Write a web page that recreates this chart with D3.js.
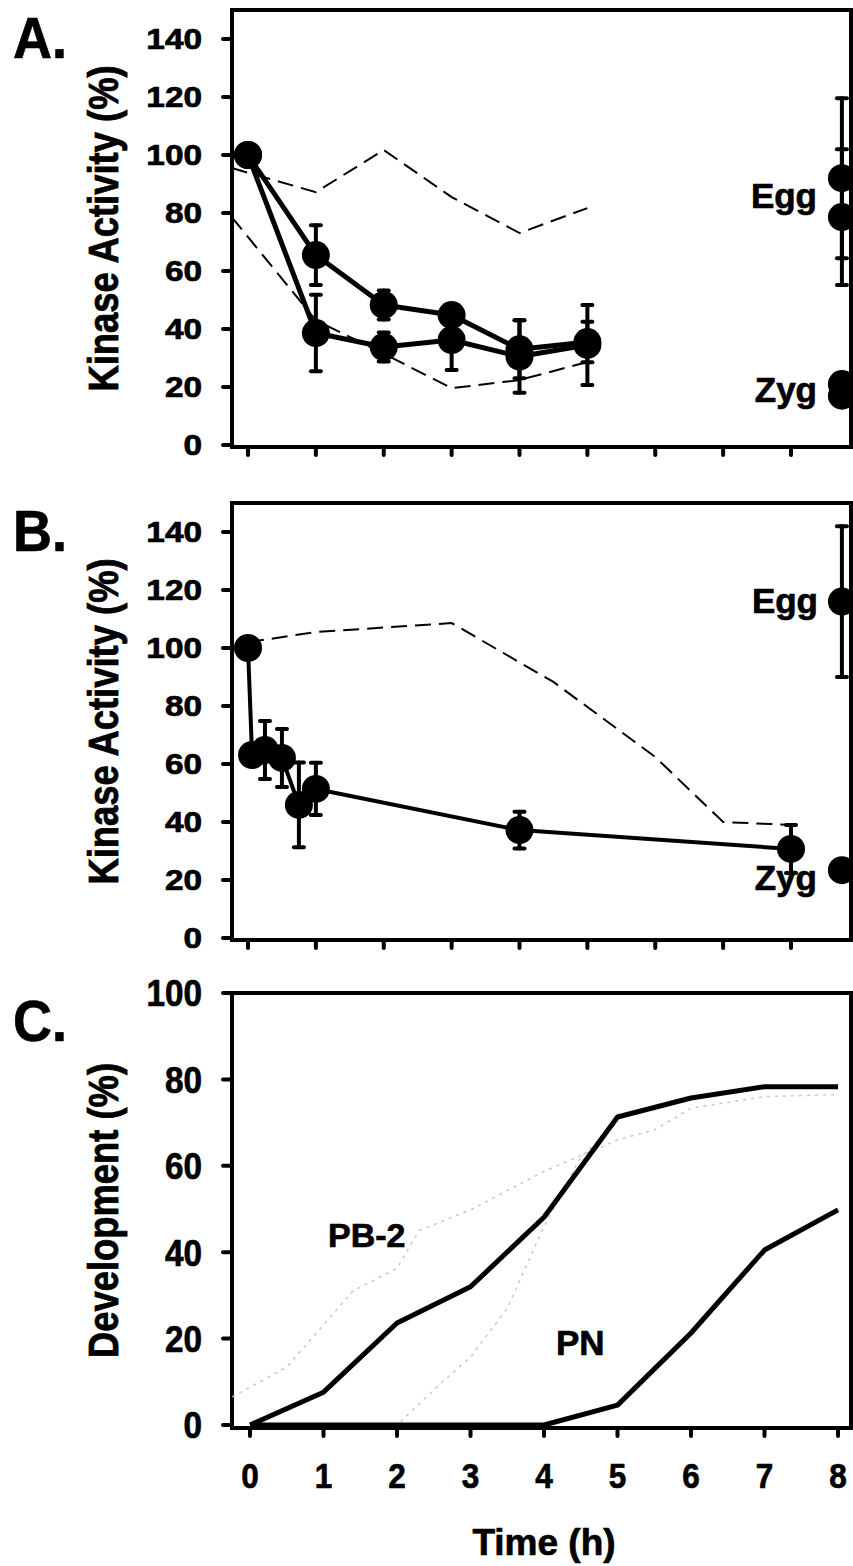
<!DOCTYPE html>
<html>
<head>
<meta charset="utf-8">
<script src="https://cdn.jsdelivr.net/npm/d3@7"></script>
<style>
  html, body { margin: 0; padding: 0; background: #fff; }
  svg { display: block; }
  text { font-family: Arial, "Liberation Sans", sans-serif; font-weight: bold; fill: #000; stroke: #000; stroke-width: 0.7px; }
</style>
</head>
<body>
<div id="graph"></div>
<script>
// ---- data ----
// panel A : kinase activity after activation, two experiments
const aTime = [0, 1, 2, 3, 4, 5];
const aKinase1 = [100, 65.5, 48.3, 44.8, 33, 35.5];
const aErr1 = [0, 10.3, 5, 3, 10, 7];
const aKinase2 = [100, 38.6, 33.8, 36.2, 30.5, 34.5];
const aErr2 = [0, 13.2, 5, 10.3, 12.5, 13.8];
const aDashTime = [-0.24, 1, 2, 3, 4, 5];
const aDashHigh = [95.5, 87.2, 101.7, 85.5, 73.1, 81.7];
const aDashLow = [78.6, 43, 31.5, 19.6, 22.4, 28.6];
const aEgg = [92, 78.6];
const aEggErr = [27.6, 23.4];
const aZyg = [21, 17];

// panel B
const bTime = [0, 0.06, 0.25, 0.5, 0.75, 1, 4, 8];
const bKinase = [100, 63.1, 64.8, 62.1, 45.9, 51.4, 37.2, 30.7];
const bErr = [0, 0, 10, 10, 14.6, 9, 6.3, 8.3];
const bDashTime = [0, 1, 3, 4.5, 6, 7, 8];
const bDash = [102, 105.5, 108.6, 88.3, 62.4, 40, 39];
const bEgg = [116];
const bEggErr = [26];
const bZyg = [23.4];

// x position of the Egg / Zyg reference points (A and B)
const refTime = 8.75;

// panel C : development
const cTime = [0, 1, 2, 3, 4, 5, 6, 7, 8];
const cPB2 = [0, 7.6, 23.6, 32, 48.1, 71.3, 75.7, 78.3, 78.3];
const cPN = [0, 0, 0, 0, 0, 4.6, 21.3, 40.5, 49.8];
const cPB2GreyTime = [-0.24, 0.5, 1.4, 2, 2.3, 3, 4, 5, 5.5, 6, 7, 8];
const cPB2Grey = [6.5, 13.4, 31, 36.3, 45, 49.8, 58.7, 66, 68.3, 73.3, 76, 76.5];
const cPNGreyTime = [0, 1, 2, 2.6, 3, 3.5, 4, 4.5, 5];
const cPNGrey = [0, 0, 0, 9.7, 15.7, 27, 46, 62, 70];

// ticks
const kinaseTicks = [0, 20, 40, 60, 80, 100, 120, 140];
const devTicks = [0, 20, 40, 60, 80, 100];
const hourTicks = [0, 1, 2, 3, 4, 5, 6, 7, 8];

const zip = (xs, ys, es) => xs.map((x, i) => ({x: x, y: ys[i], e: es ? es[i] : 0}));

const svg = d3.select("#graph").append("svg")
  .attr("width", 853).attr("height", 1566);

const frameL = 232, frameR = 851;

// stretched text helper (the scan is a bit distorted)
function label(g, x, y, str, size, sx, anchor, rot) {
  return g.append("text")
    .attr("transform", `translate(${x},${y}) scale(${sx},1)` + (rot ? ` rotate(${rot})` : ""))
    .attr("text-anchor", anchor || "start")
    .style("font-size", size + "px")
    .text(str);
}

function panel(opt) {
  const g = svg.append("g");
  const x = d3.scaleLinear().domain(opt.xDomain).range(opt.xRange);
  const y = d3.scaleLinear().domain(opt.yDomain).range([opt.bottom, opt.top]);

  // frame
  g.append("path")
    .attr("d", `M${frameL},${opt.top}H${frameR}V${opt.axisY}H${frameL}Z`)
    .attr("fill", "none").attr("stroke", "#000").attr("stroke-width", 4);

  // y ticks + labels
  g.selectAll(".yt").data(opt.yTicks).join("line")
    .attr("x1", frameL - 9).attr("x2", frameL)
    .attr("y1", d => y(d)).attr("y2", d => y(d))
    .attr("stroke", "#000").attr("stroke-width", 4).attr("stroke-linecap", "round");
  opt.yTicks.forEach(d => label(g, 202, y(d) + opt.tickFont * 0.36, d, opt.tickFont, opt.tickSx, "end"));

  // x ticks
  g.selectAll(".xt").data(hourTicks).join("line")
    .attr("x1", d => x(d)).attr("x2", d => x(d))
    .attr("y1", opt.axisY).attr("y2", opt.axisY + 8)
    .attr("stroke", "#000").attr("stroke-width", 4).attr("stroke-linecap", "round");

  // y title
  label(g, 118, (opt.top + opt.axisY) / 2, opt.title, 36.4, 1.18, "middle", -90);
  // panel letter
  label(g, 13, opt.top + 48, opt.letter, 58, 0.93, "start");

  return {g, x, y};
}

const line = (p) => d3.line().x(d => p.x(d.x)).y(d => p.y(d.y));

function dashed(p, data) {
  p.g.append("path").datum(data)
    .attr("d", line(p))
    .attr("fill", "none").attr("stroke", "#000")
    .attr("stroke-width", 2).attr("stroke-dasharray", "16,8");
}

function solid(p, data, w) {
  p.g.append("path").datum(data)
    .attr("d", line(p))
    .attr("fill", "none").attr("stroke", "#000")
    .attr("stroke-width", w).attr("stroke-linejoin", "round");
}

function errorBars(p, data) {
  const eb = data.filter(d => d.e > 0);
  const g = p.g.append("g").attr("stroke", "#000").attr("stroke-width", 4).attr("stroke-linecap", "round");
  g.selectAll(".v").data(eb).join("line")
    .attr("x1", d => p.x(d.x)).attr("x2", d => p.x(d.x))
    .attr("y1", d => p.y(d.y - d.e)).attr("y2", d => p.y(d.y + d.e));
  [1, -1].forEach(s => {
    g.selectAll(".c" + s).data(eb).join("line")
      .attr("x1", d => p.x(d.x) - 5).attr("x2", d => p.x(d.x) + 5)
      .attr("y1", d => p.y(d.y + s * d.e)).attr("y2", d => p.y(d.y + s * d.e));
  });
}

function dots(p, data, r) {
  p.g.selectAll(null).data(data).join("circle")
    .attr("cx", d => p.x(d.x)).attr("cy", d => p.y(d.y)).attr("r", r)
    .attr("fill", "#000");
}

// ---------- Panel A ----------
const pA = panel({xDomain: [0, 8], xRange: [248, 791], yDomain: [0, 150], top: 10, bottom: 445, axisY: 447,
  yTicks: kinaseTicks, tickFont: 29, tickSx: 1.15, title: "Kinase Activity (%)", letter: "A."});
dashed(pA, zip(aDashTime, aDashHigh));
dashed(pA, zip(aDashTime, aDashLow));
const a1 = zip(aTime, aKinase1, aErr1), a2 = zip(aTime, aKinase2, aErr2);
solid(pA, a1, 5);
solid(pA, a2, 5);
errorBars(pA, a1);
errorBars(pA, a2);
dots(pA, a1, 14);
dots(pA, a2, 14);
const aEggPts = aEgg.map((v, i) => ({x: refTime, y: v, e: aEggErr[i]}));
const aZygPts = aZyg.map(v => ({x: refTime, y: v, e: 0}));
errorBars(pA, aEggPts);
dots(pA, aEggPts, 14);
dots(pA, aZygPts, 14);
label(pA.g, 817, 208, "Egg", 35, 1, "end");
label(pA.g, 817, 402, "Zyg", 35, 1, "end");

// ---------- Panel B ----------
const pB = panel({xDomain: [0, 8], xRange: [248, 791], yDomain: [0, 150], top: 503, bottom: 938, axisY: 940,
  yTicks: kinaseTicks, tickFont: 29, tickSx: 1.15, title: "Kinase Activity (%)", letter: "B."});
dashed(pB, zip(bDashTime, bDash));
const b1 = zip(bTime, bKinase, bErr);
solid(pB, b1, 4);
errorBars(pB, b1);
dots(pB, b1, 14);
const bEggPts = bEgg.map((v, i) => ({x: refTime, y: v, e: bEggErr[i]}));
errorBars(pB, bEggPts);
dots(pB, bEggPts, 14);
dots(pB, bZyg.map(v => ({x: refTime, y: v, e: 0})), 14);
label(pB.g, 818, 613, "Egg", 35, 1, "end");
label(pB.g, 817, 890, "Zyg", 35, 1, "end");

// ---------- Panel C ----------
const pC = panel({xDomain: [0, 8], xRange: [250, 838], yDomain: [0, 100], top: 993, bottom: 1425, axisY: 1428,
  yTicks: devTicks, tickFont: 37, tickSx: 0.9, title: "Development (%)", letter: "C."});

[[cPB2GreyTime, cPB2Grey], [cPNGreyTime, cPNGrey]].forEach(([t, v]) => {
  pC.g.append("path").datum(zip(t, v))
    .attr("d", line(pC))
    .attr("fill", "none").attr("stroke", "#c8c8c8")
    .attr("stroke-width", 1.5).attr("stroke-dasharray", "3,5");
});
solid(pC, zip(cTime, cPB2), 5);
solid(pC, zip(cTime, cPN), 5);
label(pC.g, 328, 1247, "PB-2", 34, 1, "start");
label(pC.g, 556, 1355, "PN", 35, 1, "start");

// x axis labels + title
hourTicks.forEach(d => label(pC.g, pC.x(d), 1488, d, 35, 0.9, "middle"));
label(pC.g, pC.x(4), 1555, "Time (h)", 37, 1, "middle");
</script>
</body>
</html>
